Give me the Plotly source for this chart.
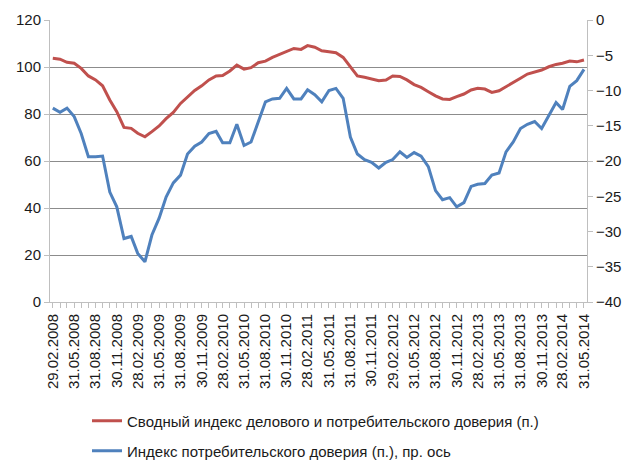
import pandas as pd
import plotly.graph_objects as go

dates = pd.date_range("2008-02-29", "2014-05-31", freq="ME")
tick_dates = dates[::3]
tick_labels = [d.strftime("%d.%m.%Y") for d in tick_dates]

composite = [103.7, 103.3, 102.0, 101.6, 99.4, 96.2, 94.5, 92.0, 86.0, 81.0,
             74.3, 73.9, 71.8, 70.3, 72.5, 74.9, 78.0, 80.7, 84.5, 87.4,
             90.0, 92.0, 94.5, 96.2, 96.4, 98.3, 100.8, 99.1, 99.7, 101.8,
             102.5, 104.1, 105.4, 106.5, 107.9, 107.5, 109.1, 108.4, 106.9, 106.5,
             106.1, 104.1, 100.1, 96.2, 95.6, 94.9, 94.2, 94.5, 96.2, 96.0,
             94.5, 92.5, 91.3, 89.5, 87.7, 86.4, 86.2, 87.4, 88.5, 90.2,
             90.9, 90.6, 89.2, 89.9, 91.6, 93.1, 95.2, 97.0, 98.0, 98.7,
             100.1, 101.1, 101.6, 102.5, 102.2, 103.0]

consumer = [-12.5, -13.1, -12.5, -13.7, -16.1, -19.4, -19.4, -19.3, -24.4, -26.5,
            -31.0, -30.7, -33.1, -34.3, -30.5, -28.1, -25.1, -23.1, -22.0, -19.0,
            -17.9, -17.3, -16.1, -15.8, -17.4, -17.4, -14.8, -17.8, -17.3, -14.4,
            -11.6, -11.2, -11.1, -9.7, -11.2, -11.2, -9.9, -10.6, -11.6, -10.0,
            -9.7, -11.1, -16.6, -19.0, -19.8, -20.2, -21.0, -20.2, -19.8, -18.7,
            -19.5, -18.8, -19.3, -20.8, -24.2, -25.5, -25.2, -26.5, -25.9, -23.6,
            -23.3, -23.2, -22.0, -21.7, -18.7, -17.3, -15.4, -14.8, -14.4, -15.4,
            -13.5, -11.7, -12.7, -9.4, -8.6, -7.0]

name1 = "Сводный индекс делового и потребительского доверия (п.)"
name2 = "Индекс потребительского доверия (п.), пр. ось"

FONT = "Liberation Sans"
TXT = "#1a1a1a"

fig = go.Figure()
fig.add_trace(go.Scatter(x=dates, y=composite, mode="lines", name=name1,
                         line=dict(color="#c0504d", width=3), legend="legend"))
fig.add_trace(go.Scatter(x=dates, y=consumer, mode="lines", name=name2,
                         line=dict(color="#4f81bd", width=3), yaxis="y2", legend="legend2"))

fig.update_layout(
    width=626, height=460,
    margin=dict(l=50, r=39, t=20, b=158, autoexpand=False),
    paper_bgcolor="white", plot_bgcolor="white",
    font=dict(family=FONT, size=15, color=TXT),
    xaxis=dict(
        type="date",
        range=["2008-02-17", "2014-06-13"],
        tickmode="array", tickvals=tick_dates, ticktext=tick_labels,
        tickangle=-90, ticks="outside", ticklen=5, tickcolor="#bfbfbf",
        minor=dict(tickmode="array", tickvals=dates, ticks="outside", ticklen=5,
                   tickcolor="#bfbfbf", showgrid=False),
        showgrid=False, showline=True, linecolor="#bfbfbf", linewidth=1,
        tickfont=dict(size=15, color=TXT),
    ),
    yaxis=dict(
        range=[0, 120], dtick=20, tick0=0,
        ticks="outside", ticklen=5, tickcolor="#bfbfbf",
        showgrid=True, gridcolor="#8c8c8c", gridwidth=1,
        showline=True, linecolor="#bfbfbf", zeroline=False,
        tickfont=dict(size=15, color=TXT),
    ),
    yaxis2=dict(
        range=[-40, 0], dtick=5, tick0=0, overlaying="y", side="right",
        ticks="outside", ticklen=5, tickcolor="#bfbfbf",
        showgrid=False, showline=True, linecolor="#bfbfbf", zeroline=False,
        tickfont=dict(size=15, color=TXT),
    ),
    legend=dict(xref="container", yref="container", x=87 / 626, xanchor="left",
                y=1 - 421 / 460, yanchor="middle",
                font=dict(size=15, color=TXT), bgcolor="rgba(0,0,0,0)"),
    legend2=dict(xref="container", yref="container", x=87 / 626, xanchor="left",
                 y=1 - 451 / 460, yanchor="middle",
                 font=dict(size=15, color=TXT), bgcolor="rgba(0,0,0,0)"),
    showlegend=True,
)

fig.write_html("out.html", config={"displayModeBar": False},
               post_script="document.body.style.margin='0';document.body.style.padding='0';")
